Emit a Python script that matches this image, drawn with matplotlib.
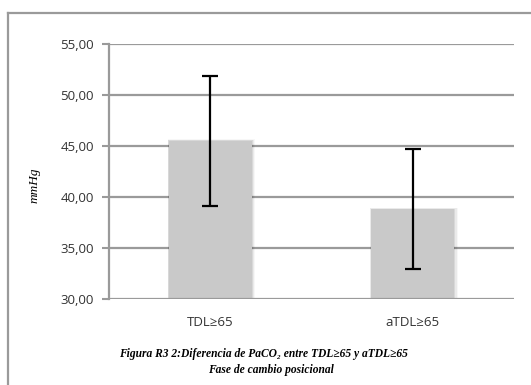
import matplotlib
matplotlib.use("Agg")
import matplotlib.pyplot as plt
from matplotlib.lines import Line2D
from matplotlib.patches import Rectangle

categories = ["TDL≥65", "aTDL≥65"]
means = [45.5, 38.8]
sd = [6.4, 5.9]
y_ticks = [30, 35, 40, 45, 50, 55]
y_tick_labels = ["30,00", "35,00", "40,00", "45,00", "50,00", "55,00"]
y_label = "mmHg"
caption_1 = "Figura R3 2:Diferencia de PaCO₂ entre TDL≥65 y aTDL≥65"
caption_2 = "Fase de cambio posicional"

W, H = 531, 385
fig = plt.figure(figsize=(W / 100, H / 100), dpi=100)
fig.patch.set_facecolor("white")

grid_col = "#9a9a9a"
serif = ["Liberation Serif", "DejaVu Serif"]

# outer chart frame (runs off the right and bottom edges)
fig.add_artist(Line2D([8 / W, 1.0], [1 - 13 / H, 1 - 13 / H], color=grid_col, lw=1.6,
                      transform=fig.transFigure))
fig.add_artist(Line2D([8 / W, 8 / W], [0.0, 1 - 13 / H], color=grid_col, lw=1.6,
                      transform=fig.transFigure))

ax = fig.add_axes([109 / W, (H - 299) / H, 405 / W, (299 - 44) / H])
ax.set_xlim(-0.5, 1.5)
ax.set_ylim(30, 55)

# horizontal gridlines behind the bars; the baseline sits on top
for t in y_ticks:
    ax.axhline(t, color=grid_col, lw=1.6, zorder=2.5 if t == y_ticks[0] else 0.5)

x = list(range(len(categories)))
# soft shadow around the bars
for xi, m in zip(x, means):
    for k, a in enumerate([0.08, 0.05, 0.03]):
        off = 0.004 * (k + 1)
        ax.add_patch(Rectangle((xi - 0.205 - off / 2, 30), 0.41 + 2 * off, m - 30 + 0.05 * (k + 1),
                               facecolor="#000000", alpha=a, edgecolor="none", zorder=1.5))
ax.bar(x, [m - 30 for m in means], bottom=30, width=0.41, color="#c9c9c9", zorder=2)
ax.errorbar(x, means, yerr=sd, fmt="none", ecolor="black", elinewidth=1.6,
            capsize=5.7, capthick=1.6, zorder=3)

ax.set_yticks(y_ticks)
ax.set_yticklabels(y_tick_labels, fontsize=9.5, color="#333333", family="Open Sans")
ax.set_xticks(x)
ax.set_xticklabels(categories, fontsize=9.5, color="#333333", family="Open Sans")
ax.tick_params(axis="x", length=0, pad=12)
ax.tick_params(axis="y", length=5, width=1.5, color=grid_col, pad=6)

for s in ["top", "right", "bottom"]:
    ax.spines[s].set_visible(False)
ax.spines["left"].set_color(grid_col)
ax.spines["left"].set_linewidth(1.6)
ax.spines["left"].set_zorder(2.6)

fig.text(35 / W, 1 - 185 / H, y_label, rotation=90, ha="center", va="center",
         fontsize=9.5, style="italic", family=serif)

fig.text(263 / W, 1 - 354 / H, caption_1, ha="center", va="center", fontsize=8.3,
         style="italic", weight="bold", family=serif)
fig.text(271 / W, 1 - 370 / H, caption_2, ha="center", va="center", fontsize=8.3,
         style="italic", weight="bold", family=serif)

fig.savefig("out.png", dpi=100, facecolor="white")
